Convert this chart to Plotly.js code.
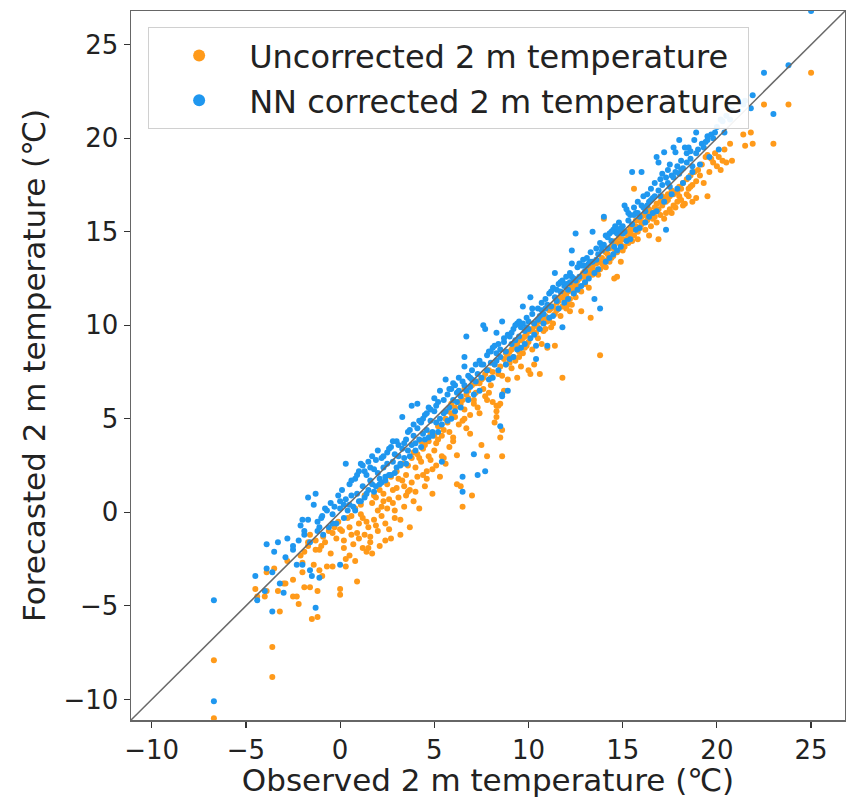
<!DOCTYPE html>
<html>
<head>
<meta charset="utf-8">
<script src="https://cdn.plot.ly/plotly-3.0.1.min.js"></script>
<style>html,body{margin:0;padding:0;background:#fff;}#chart{width:846px;height:798px;}</style>
</head>
<body>
<div id="chart"></div>
<script>
// Observed 2 m temperature (°C), shared by both series
const observed = [
  -6.7,-6.7,-4.5,-4.4,-4.0,-3.9,-3.9,-3.6,-3.6,-3.5,
  -3.3,-3.2,-3.0,-2.9,-2.8,-2.5,-2.5,-2.3,-2.2,-2.1,
  -2.0,-2.0,-1.9,-1.9,-1.7,-1.7,-1.6,-1.6,-1.5,-1.4,
  -1.3,-1.3,-1.2,-1.2,-1.1,-1.1,-1.0,-0.95,-0.9,-0.7,
  -0.6,-0.5,-0.4,-0.3,-0.2,-0.1,0.0,0.0,0.1,0.2,
  0.3,0.3,0.4,0.5,0.6,0.7,0.8,0.9,1.0,1.0,
  1.1,1.2,1.2,1.3,1.4,1.5,1.6,1.6,1.7,1.7,
  1.8,1.9,2.0,2.0,2.1,2.2,2.3,2.4,2.5,2.5,
  2.6,2.7,2.8,2.9,3.0,3.0,3.1,3.2,3.3,3.3,
  3.4,3.5,3.6,3.7,3.8,3.8,3.9,4.0,4.1,4.1,
  4.2,4.3,4.4,4.5,4.6,4.7,4.8,4.9,5.0,5.0,
  5.1,5.2,5.3,5.3,5.4,5.5,5.6,5.6,5.7,5.8,
  5.9,6.0,6.1,6.2,6.2,6.3,6.4,6.5,6.5,6.5,
  6.6,6.6,6.7,6.7,6.8,6.9,7.0,7.0,7.1,7.2,
  7.3,7.3,7.4,7.5,7.5,7.6,7.7,7.7,7.8,7.8,
  7.9,8.0,8.1,8.2,8.3,8.3,8.3,8.4,8.5,8.5,
  8.5,8.6,8.6,8.6,8.7,8.8,8.9,9.0,9.1,9.2,
  9.3,9.4,9.5,9.6,9.7,9.8,9.9,10.0,10.0,10.1,
  10.2,10.3,10.4,10.4,10.5,10.6,10.7,10.8,10.9,11.0,
  11.0,11.1,11.2,11.3,11.4,11.4,11.5,11.6,11.7,11.8,
  11.8,11.9,12.0,12.1,12.2,12.2,12.3,12.3,12.4,12.5,
  12.6,12.7,12.8,12.9,13.0,13.1,13.2,13.3,13.4,13.4,
  13.5,13.6,13.7,13.8,13.8,13.9,14.0,14.0,14.1,14.2,
  14.3,14.4,14.5,14.55,14.6,14.7,14.8,14.9,15.0,15.1,
  15.1,15.2,15.3,15.4,15.5,15.5,15.6,15.7,15.8,15.9,
  16.0,16.0,16.1,16.2,16.3,16.4,16.5,16.6,16.7,16.8,
  16.9,16.9,17.0,17.0,17.1,17.2,17.3,17.3,17.4,17.5,
  17.5,17.6,17.7,17.8,17.8,17.9,18.0,18.0,18.1,18.2,
  18.3,18.4,18.5,18.6,18.7,18.8,18.9,19.0,19.2,19.4,
  19.5,19.5,19.7,19.9,20.0,20.3,20.4,20.5,20.7,20.8,
  21.4,21.5,21.8,21.9,22.5,23.0,23.8,25.0,
  -0.8,-0.4,0.0,0.2,0.5,0.6,0.8,0.9,1.1,1.3,
  1.4,1.5,1.8,1.9,2.1,2.2,2.3,2.4,2.6,2.7,
  2.8,2.9,3.1,3.2,3.4,3.5,3.6,3.7,3.9,4.0,
  4.2,4.3,4.4,4.5,4.6,4.7,4.8,4.9,5.1,5.2,
  5.4,5.5,5.7,5.8,5.9,6.0,6.1,6.3,6.4,6.6,
  6.8,6.9,7.1,7.2,7.4,7.6,7.9,8.0,8.1,8.2,
  8.4,8.7,8.8,8.9,9.0,9.1,9.2,9.3,9.4,9.5,
  9.6,9.7,9.8,9.9,10.1,10.2,10.3,10.5,10.6,10.7,
  10.8,10.9,11.1,11.2,11.3,11.5,11.6,11.7,11.9,12.0,
  12.1,12.3,12.4,12.5,12.6,12.7,12.8,12.9,13.0,13.1,
  13.2,13.3,13.5,13.6,13.7,13.9,14.1,14.2,14.3,14.4,
  14.5,14.6,14.7,14.8,14.9,15.0,15.2,15.3,15.4,15.6,
  15.7,15.8,15.9,16.1,16.2,16.3,16.4,16.5,16.6,16.7,
  16.8,17.1,17.2,17.4,17.6,17.7,17.9,18.1,18.2,18.4,
  18.5,18.6,18.7,18.9,19.1,19.3,19.6,19.8,20.1,20.2
];
// NN corrected forecast (°C)
const nnCorrected = [
  -4.7,-10.1,-3.4,-4.7,-4.2,-1.7,-3.0,-5.3,-3.2,-2.1,
  -1.6,-3.8,-4.3,-2.4,-1.4,-2.0,-1.8,-2.8,-1.5,-0.7,
  -0.4,-2.8,-1.2,-1.0,-0.4,0.8,-1.6,-3.1,-3.4,0.4,
  -5.1,1.0,-0.5,-1.0,-3.5,-0.8,-0.3,-0.2,-1.2,0.1,
  -0.8,0.5,-0.1,0.3,-0.6,0.9,-2.8,0.2,1.2,0.4,
  2.6,0.7,0.1,1.5,0.9,0.3,1.8,1.0,2.2,0.6,
  2.6,2.5,1.4,0.8,2.0,1.2,2.4,1.7,3.0,1.5,
  2.3,1.4,3.3,2.1,1.8,2.9,2.4,1.9,3.2,2.6,
  2.0,3.5,2.7,3.1,2.4,3.8,3.0,2.6,5.1,3.4,
  2.9,3.9,3.3,4.4,5.7,3.6,4.1,3.7,5.8,4.5,
  3.9,4.8,4.2,5.2,4.4,5.6,4.9,4.3,5.4,6.1,
  4.8,5.9,6.5,5.0,2.7,6.0,7.1,5.4,6.3,5.6,
  6.6,6.0,6.8,5.9,6.4,7.2,6.2,1.9,1.1,7.0,
  8.3,7.8,9.4,6.5,7.3,6.7,7.6,7.1,3.1,7.9,
  2.0,7.4,8.1,7.2,7.9,10.0,2.2,9.8,8.4,7.6,
  8.6,8.0,8.8,7.9,9.6,8.5,8.1,9.0,4.6,8.7,
  8.3,10.2,6.3,6.2,9.1,8.6,6.5,9.4,9.0,9.8,
  9.2,10.1,9.4,9.9,11.0,9.7,10.4,10.2,9.8,11.5,
  10.6,10.1,8.9,8.2,10.9,10.5,11.2,10.6,11.4,8.9,
  11.1,11.7,11.0,12.0,12.8,11.5,11.3,12.2,11.8,9.9,
  12.4,12.1,12.6,11.9,12.8,12.3,14.0,13.3,12.5,14.9,
  13.1,12.6,13.2,13.5,12.9,13.6,13.3,13.9,15.0,13.4,
  11.4,14.1,13.8,10.9,14.4,14.0,15.8,14.3,14.8,14.1,
  14.9,14.5,15.1,14.2,15.0,14.9,15.5,15.2,15.3,16.4,
  15.0,16.2,15.6,15.9,18.2,15.4,16.3,16.0,16.6,15.8,
  18.2,16.4,16.9,16.1,17.0,16.6,17.3,16.8,17.6,19.0,
  18.7,17.2,17.8,16.9,18.1,19.25,15.1,17.9,18.3,18.6,
  17.4,18.0,19.5,19.25,18.2,18.5,19.9,18.1,18.8,18.4,
  19.5,18.7,19.5,18.9,18.5,19.9,20.3,19.4,19.7,19.8,
  20.1,19.9,20.2,20.3,20.6,20.9,20.3,21.2,21.0,21.5,
  21.8,22.0,21.6,22.3,23.5,21.3,23.9,26.8,
  0.2,-0.6,0.6,-0.3,0.4,1.7,0.1,2.0,0.6,2.2,
  1.0,2.7,1.1,2.8,1.5,1.6,3.0,1.7,3.4,2.0,
  3.8,2.1,3.6,2.5,3.7,2.6,4.3,3.0,4.7,3.3,
  4.9,3.5,5.0,3.9,5.3,4.0,5.5,4.1,5.7,4.3,
  4.7,5.3,4.9,6.6,5.0,6.9,5.4,6.5,5.6,6.8,
  6.0,7.2,6.3,7.0,6.5,7.9,7.1,8.6,7.2,8.9,
  7.6,9.3,7.9,9.5,8.2,9.6,8.3,10.0,8.7,10.2,
  8.8,10.1,9.0,9.9,9.3,10.9,9.5,10.3,9.8,10.8,
  10.1,10.9,10.4,11.8,10.5,11.9,10.9,12.3,11.2,12.2,
  11.4,12.6,11.7,12.4,11.9,13.3,12.1,13.2,12.3,13.2,
  12.5,13.4,12.8,13.5,13.0,14.2,13.4,14.7,13.6,15.0,
  13.8,15.3,14.0,15.1,14.2,14.9,14.5,16.0,14.6,15.9,
  15.1,16.0,15.2,16.3,15.5,16.4,15.8,16.7,16.0,16.9,
  16.1,17.5,16.6,17.6,17.0,17.9,17.3,18.3,17.6,19.2,
  17.9,19.3,18.2,19.2,18.6,19.5,19.0,20.0,19.4,21.0
];
// Uncorrected forecast (°C)
const uncorrected = [
  -7.9,-11.0,-4.1,-4.5,-4.5,-3.2,-4.2,-8.8,-7.2,-3.0,
  -4.2,-5.3,-3.8,-3.8,-2.6,-3.6,-4.5,-4.5,-4.9,-2.3,
  -3.2,-2.7,-4.0,-2.1,-1.8,-1.6,-4.0,-1.2,-5.7,-2.8,
  -2.0,-1.5,-5.6,-4.2,-3.1,-2.0,-1.8,-3.4,-1.3,-2.9,
  -1.0,-2.2,-2.9,-0.8,-1.4,-0.5,-4.1,-4.4,-1.0,-1.9,
  -2.5,-2.9,-0.3,-0.8,-1.2,-1.7,0.2,-3.7,-0.6,-1.4,
  0.4,-0.3,-1.9,0.9,-2.1,-0.8,-1.6,-1.3,-2.2,0.5,
  -0.4,0.8,0.1,-1.0,1.2,-0.2,0.6,-1.5,1.5,0.2,
  -0.9,1.9,0.5,-0.3,1.3,2.2,0.8,-1.2,1.7,2.6,
  0.3,2.0,1.1,-0.8,2.9,1.6,0.6,2.4,3.1,1.9,
  0.2,2.7,3.4,1.4,2.2,3.8,2.8,1.0,3.3,4.1,
  2.5,3.9,4.6,1.9,3.0,4.4,5.0,2.6,4.8,3.5,
  5.3,4.0,5.6,3.05,1.5,5.9,1.4,0.3,4.9,6.0,
  5.5,6.6,6.3,4.5,6.1,5.2,0.9,6.8,5.8,6.4,
  7.0,5.6,6.9,3.6,7.1,6.6,7.4,6.2,3.0,6.0,
  7.6,6.8,7.5,4.8,5.4,5.1,5.7,5.7,4.0,7.8,
  5.8,3.0,4.4,7.3,8.2,7.9,8.4,8.0,8.7,8.3,
  8.9,7.2,8.6,7.8,9.3,8.8,9.5,7.6,9.1,7.4,
  9.8,7.9,9.6,10.0,9.9,7.4,10.3,9.7,10.5,8.8,
  10.2,10.8,9.9,11.0,8.9,10.6,11.2,10.9,11.5,7.2,
  11.0,11.4,11.6,11.1,10.75,11.4,11.9,12.1,11.7,12.2,
  12.4,11.9,10.75,12.6,12.3,12.9,12.0,10.4,13.1,12.7,
  13.3,12.8,13.4,8.4,13.0,13.6,15.7,13.2,13.9,13.5,
  14.1,13.6,14.3,12.5,14.0,12.6,14.4,13.4,14.6,14.9,
  14.2,15.0,14.7,15.2,15.1,14.5,17.3,15.3,15.0,15.6,
  15.4,15.8,15.5,15.9,16.1,14.8,16.0,15.7,16.3,16.5,
  14.6,16.2,15.9,16.6,16.4,16.8,16.0,16.6,17.0,16.2,
  16.9,17.2,16.4,16.3,17.1,17.1,17.4,16.9,16.7,17.6,
  16.5,17.8,17.3,18.0,17.5,18.2,16.8,18.3,18.6,19.0,
  16.9,19.1,18.9,19.2,18.5,18.8,19.4,18.7,19.7,18.8,
  20.2,19.6,20.3,19.7,21.8,19.7,21.8,23.5,
  -1.6,-1.1,-0.9,-1.5,-2.3,-0.2,-2.6,-1.1,-0.1,-1.2,
  -0.5,-1.9,0.9,-0.7,-1.8,0.3,1.0,-0.6,0.7,-1.4,
  1.2,0.1,1.8,-0.4,1.4,0.9,2.5,1.2,3.2,1.1,
  2.9,3.8,2.0,3.6,1.8,3.0,4.2,2.3,3.7,4.6,
  4.1,2.9,5.4,4.3,5.8,3.8,5.1,4.7,5.8,5.0,
  6.5,4.2,6.0,6.9,5.3,7.2,6.4,7.2,5.9,7.9,
  7.4,6.5,8.5,7.1,8.6,7.7,8.9,8.1,9.0,8.3,
  9.2,8.5,9.4,8.9,9.7,8.7,10.1,9.3,10.2,9.0,
  10.4,9.8,10.3,10.9,10.1,10.8,11.3,10.5,11.7,10.9,
  11.8,11.1,12.0,11.5,12.1,12.5,11.8,12.8,12.2,12.6,
  12.8,13.0,12.9,13.3,12.7,13.3,13.1,13.8,13.4,14.2,
  13.7,14.5,13.9,14.7,14.3,14.0,14.6,14.4,14.9,14.8,
  15.6,14.6,15.2,15.9,15.1,15.6,16.2,15.3,16.0,15.8,
  15.5,16.9,15.7,16.7,16.0,17.0,16.6,17.3,16.4,17.0,
  16.9,17.4,16.6,17.7,18.0,17.6,18.2,18.7,19.0,18.3
];
const seriesNames = ['Uncorrected 2 m temperature', 'NN corrected 2 m temperature'];
const axisRange = [-11.1, 26.8];
const tickValues = [-10, -5, 0, 5, 10, 15, 20, 25];

const font = 'DejaVu Sans, sans-serif';
const traces = [
  {x: observed, y: uncorrected, name: seriesNames[0], type: 'scatter', mode: 'markers',
   marker: {color: '#ff9a1a', size: 6}},
  {x: observed, y: nnCorrected, name: seriesNames[1], type: 'scatter', mode: 'markers',
   marker: {color: '#1f97ef', size: 6}},
  {x: axisRange, y: axisRange, type: 'scatter', mode: 'lines', showlegend: false,
   line: {color: '#6a6a6a', width: 1.5}, hoverinfo: 'skip'}
];
const axisCommon = {
  range: axisRange, tickvals: tickValues, ticks: 'outside', ticklen: 6, tickwidth: 1.2,
  tickcolor: '#333', showline: true, mirror: true, linecolor: '#666', linewidth: 1.5,
  showgrid: false, zeroline: false, tickfont: {family: font, size: 26, color: '#222'}
};
const layout = {
  width: 846, height: 798,
  margin: {l: 131, r: 1, t: 11, b: 78},
  paper_bgcolor: '#fff', plot_bgcolor: '#fff',
  xaxis: Object.assign({}, axisCommon, {
    title: {text: 'Observed 2 m temperature (℃)', font: {family: font, size: 31, color: '#222'}, standoff: 4}
  }),
  yaxis: Object.assign({}, axisCommon, {
    title: {text: 'Forecasted 2 m temperature (℃)', font: {family: font, size: 31, color: '#222'}, standoff: 8}
  }),
  legend: {x: 0.024, y: 0.977, xanchor: 'left', yanchor: 'top', bgcolor: 'rgba(255,255,255,0.92)',
    bordercolor: '#d0d0d0', borderwidth: 1, font: {family: font, size: 32, color: '#222'},
    itemsizing: 'constant', itemwidth: 90},
  showlegend: true
};
Plotly.newPlot('chart', traces, layout, {staticPlot: true});
</script>
</body>
</html>
